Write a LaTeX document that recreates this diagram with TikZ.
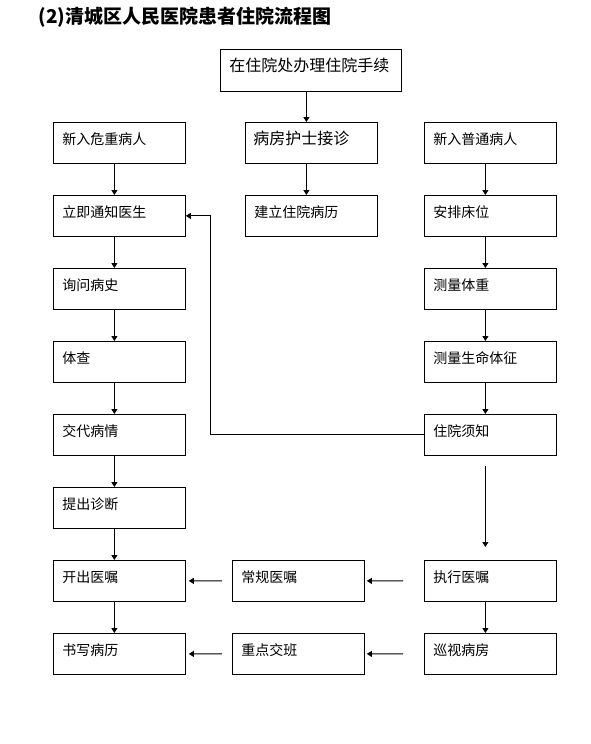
\documentclass[tikz,border=0pt]{standalone}
\usepackage{fontspec}
\setmainfont{Noto Sans CJK SC}
\usetikzlibrary{arrows.meta, positioning}

\begin{document}
\begin{tikzpicture}[
    x=1pt, y=-1pt,
    node distance=31.2pt,
    box/.style = {rectangle, draw=black, line width=0.8pt, minimum width=132pt, minimum height=41pt, text width=114pt, inner xsep=9pt, inner ysep=0pt, align=left, text height=10pt, text depth=7.5pt, font=\fontsize{14}{14}\selectfont},
    bigbox/.style = {box, font=\fontsize{16}{16}\selectfont},
    line/.style = {draw, line width=1pt, -{Triangle[length=5pt,width=6pt]}},
]

% Page
\fill[white] (0,0) rectangle (590,744);

% Title
\node[anchor=west, font=\fontsize{19}{19}\selectfont\bfseries] (title) at (35,17) {(2)清城区人民医院患者住院流程图};

% Admission office
\node[bigbox, minimum width=181pt, text width=163pt, minimum height=42pt, anchor=north west] (banli) at (220,49) {在住院处办理住院手续};

% Critical patients
\node[box, anchor=north west] (weizhong) at (53,122) {新入危重病人};
\node[box, below=of weizhong] (tongzhi) {立即通知医生};
\node[box, below=of tongzhi] (bingshi) {询问病史};
\node[box, below=of bingshi] (ticha) {体查};
\node[box, below=of ticha] (jiaodai) {交代病情};
\node[box, below=of jiaodai] (zhenduan) {提出诊断};
\node[box, below=of zhenduan] (kaichu) {开出医嘱};
\node[box, below=of kaichu] (shuxie) {书写病历};

% Nurse station
\node[bigbox, inner xsep=8pt, text width=116pt, anchor=north west] (jiezhen) at (245,122) {病房护士接诊};
\node[box, below=of jiezhen] (bingli) {建立住院病历};
\node[box, anchor=north west] (changgui) at (232,560) {常规医嘱};
\node[box, below=of changgui] (jiaoban) {重点交班};

% Ordinary patients
\node[box, anchor=north west] (putong) at (424,122) {新入普通病人};
\node[box, below=of putong] (chuangwei) {安排床位};
\node[box, below=of chuangwei] (tizhong) {测量体重};
\node[box, below=of tizhong] (tizheng) {测量生命体征};
\node[box, below=of tizheng] (xuzhi) {住院须知};
\node[box, below=104.2pt of xuzhi] (zhixing) {执行医嘱};
\node[box, below=of zhixing] (xunshi) {巡视病房};

% Paths
\path [line] ([xshift=-5pt]jiezhen.north |- banli.south) -- ([xshift=-5pt]jiezhen.north);
\foreach \a/\b in {weizhong/tongzhi, tongzhi/bingshi, bingshi/ticha, ticha/jiaodai, jiaodai/zhenduan, zhenduan/kaichu, kaichu/shuxie, jiezhen/bingli, putong/chuangwei, chuangwei/tizhong, tizhong/tizheng, tizheng/xuzhi, zhixing/xunshi}
    \path [line] ([xshift=-5pt]\a.south) -- ([xshift=-5pt]\b.north);
\path [line, shorten <=10pt, shorten >=13pt] ([xshift=-5pt]xuzhi.south) -- ([xshift=-5pt]zhixing.north);
\path [line] (xuzhi.west) -- ++(-214,0) |- (tongzhi.east);

\path [line, shorten <=21pt, shorten >=2pt] (zhixing.west) -- (changgui.east);
\path [line, shorten <=21pt, shorten >=2pt] (xunshi.west) -- (jiaoban.east);
\path [line, shorten <=10pt, shorten >=3pt] (changgui.west) -- (kaichu.east);
\path [line, shorten <=10pt, shorten >=3pt] (jiaoban.west) -- (shuxie.east);

\end{tikzpicture}
\end{document}
